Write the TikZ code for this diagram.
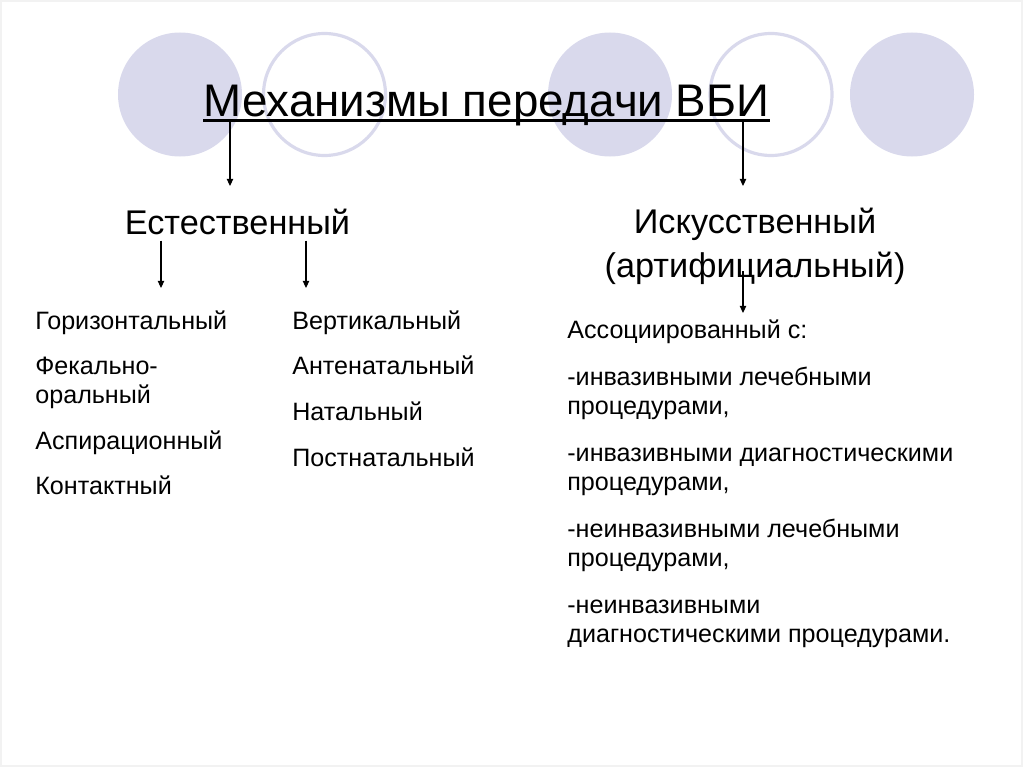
\documentclass[tikz,border=0pt]{standalone}
\usepackage{fontspec}
\setmainfont{Liberation Sans}
\usepackage{xcolor}
\usepackage{tikz}
\usetikzlibrary{arrows.meta, positioning, calc}

\definecolor{lilac}{RGB}{217,217,236}

\begin{document}
\begin{tikzpicture}[x=0.02cm, y=-0.02cm]
    \tikzstyle{disc} = [fill=lilac, draw=none]
    \tikzstyle{ring} = [draw=lilac, line width=1.8pt, fill=white]
    \tikzstyle{head} = [inner sep=0pt, font=\fontsize{26}{30}\selectfont]
    \tikzstyle{sub} = [inner sep=0pt, align=center, font=\fontsize{19.5}{25}\selectfont]
    \tikzstyle{items} = [inner sep=0pt, anchor=north west, align=left, font=\fontsize{14.3}{16.4}\selectfont]
    \tikzstyle{arr} = [-{Triangle[length=4pt, width=3.6pt]}, line width=0.6pt]

    \useasboundingbox (0,0) rectangle (1024,767);
    \draw[black!5, line width=1pt] (1,1) rectangle (1022,766);

    % circles behind the title
    \fill[disc] (180,94.5) circle (62);
    \draw[ring] (324.5,94.5) circle (61);
    \fill[disc] (610,94.5) circle (62);
    \draw[ring] (771,94.5) circle (61);
    \fill[disc] (912,94.5) circle (62);

    \node (title) [head, anchor=base] at (486.5,116) {Механизмы передачи ВБИ};
    \coordinate (ulw) at ([yshift=-2.8pt]title.base west);
    \coordinate (ule) at ([yshift=-2.8pt]title.base east);
    \draw[line width=1.7pt] (ulw) -- (ule);

    \node (est) [sub, anchor=base, inner ysep=3.4pt] at (237.5,234) {Естественный};
    \node (art) [sub, anchor=north] at (755,208) {Искусственный\\(артифициальный)};

    \node (horiz) [items] at (35,310) {Горизонтальный\\[9.6pt]Фекально-\\оральный\\[9.6pt]Аспирационный\\[9.6pt]Контактный};
    \node (vert) [items] at (292,310) {Вертикальный\\[9.6pt]Антенатальный\\[9.6pt]Натальный\\[9.6pt]Постнатальный};
    \node (assoc) [items] at (567,319) {Ассоциированный с:\\[10.5pt]-инвазивными лечебными\\процедурами,\\[10.5pt]-инвазивными диагностическими\\процедурами,\\[10.5pt]-неинвазивными лечебными\\процедурами,\\[10.5pt]-неинвазивными\\диагностическими процедурами.};

    \coordinate (t1) at (230,186);
    \coordinate (t2) at (743,186);
    \coordinate (e1) at (161,288);
    \coordinate (e2) at (306,288);
    \coordinate (a1) at (743,313);

    \draw[arr] (ulw -| t1) -- (t1);
    \draw[arr] (ule -| t2) -- (t2);
    \draw[arr] (est.south -| e1) -- (e1);
    \draw[arr] (est.south -| e2) -- (e2);
    \draw[arr] ($(art.south -| a1)+(0,-14)$) -- (a1);
\end{tikzpicture}
\end{document}
